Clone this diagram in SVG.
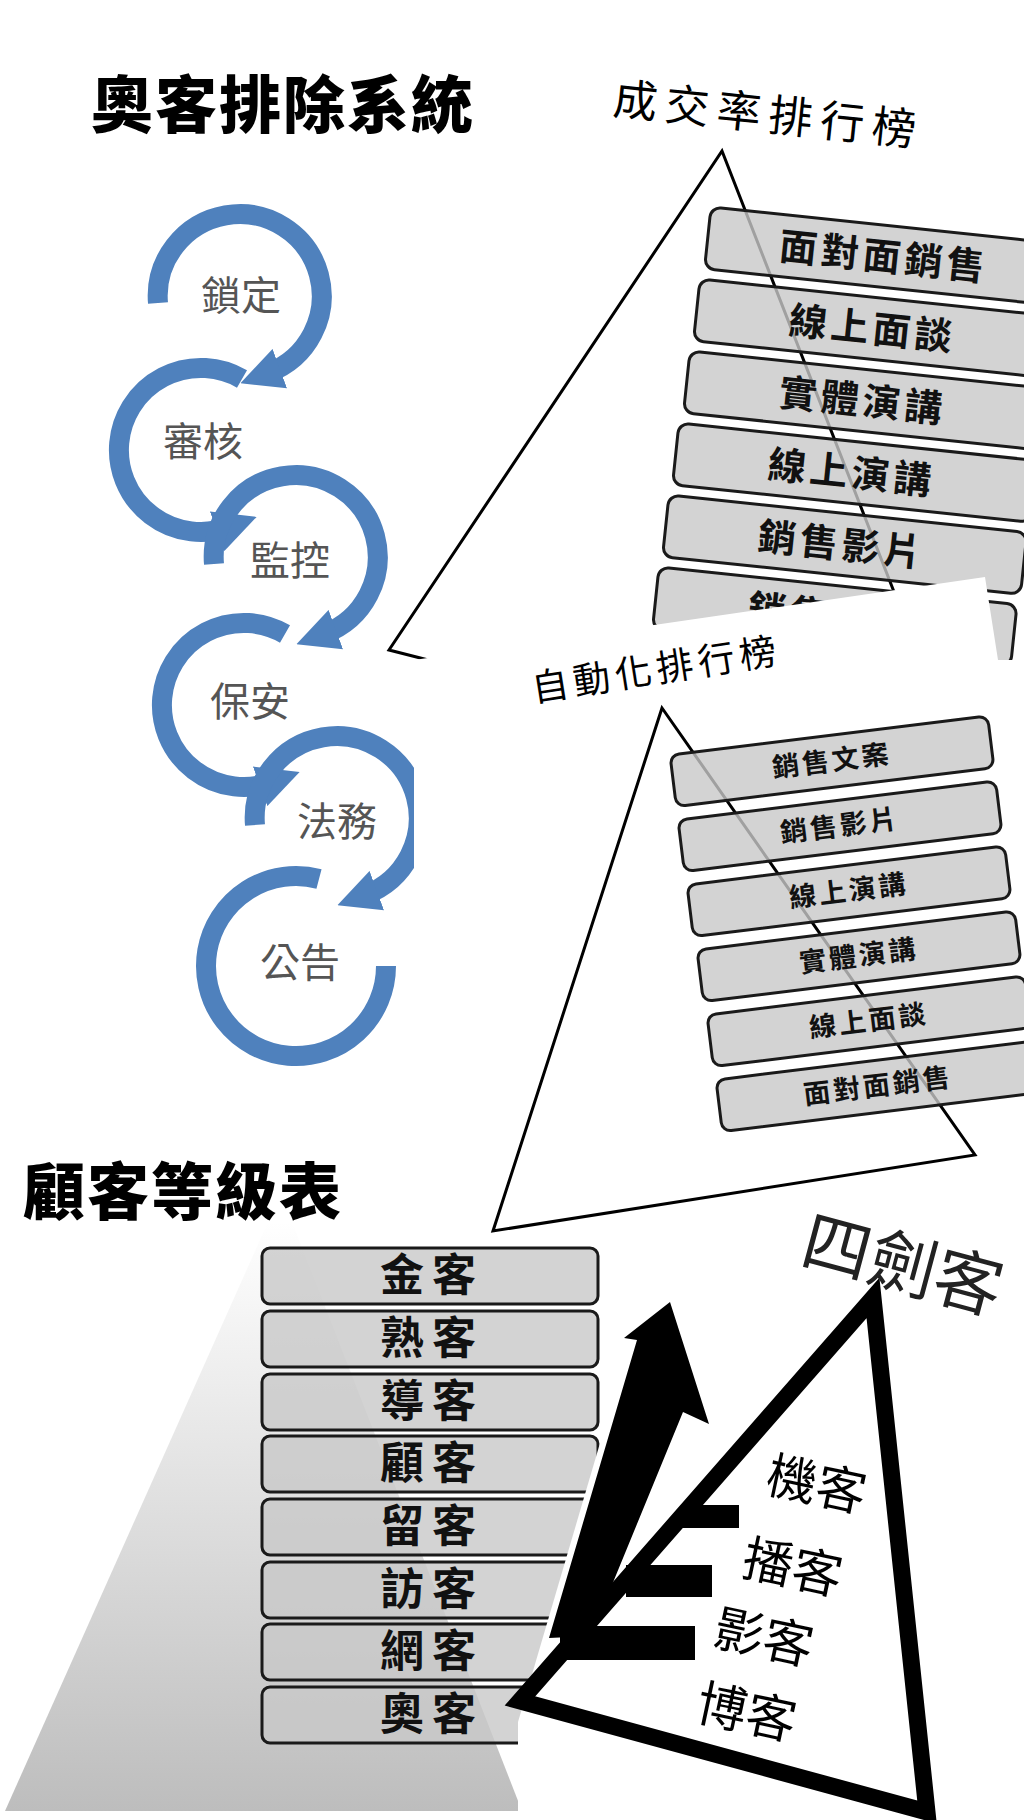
<svg xmlns="http://www.w3.org/2000/svg" width="1024" height="1820" viewBox="0 0 1024 1820">
<style>
.t{font-family:"Noto Sans CJK TC","Noto Sans CJK SC",sans-serif;}
.ring{fill:none;stroke:#4f81bd;stroke-width:20;}
.rt{font-family:"Noto Sans CJK TC",sans-serif;font-size:40px;fill:#555;text-anchor:middle;}
.bx{fill:#c8c8c8;fill-opacity:0.8;stroke:#1a1a1a;stroke-width:3;}
.bt{font-family:"Noto Sans CJK TC",sans-serif;fill:#111;text-anchor:middle;font-weight:700;}
.ln{fill:none;stroke:#000;stroke-width:3;}
</style>
<defs>
<marker id="ah" viewBox="0 0 10 10" refX="3" refY="5" markerWidth="42" markerHeight="42" markerUnits="userSpaceOnUse" orient="auto"><path d="M0,0 L10,5 L0,10 z" fill="#4f81bd"/></marker>
<linearGradient id="gg" x1="0" y1="0" x2="0" y2="1"><stop offset="0" stop-color="#fff"/><stop offset="1" stop-color="#bdbdbd"/></linearGradient>
</defs>
<rect width="1024" height="1820" fill="#fff"/>
<g id="cycle">
<g id="n-lock"><path class="ring" d="M158,303 A82,82 0 1 1 268,373" marker-end="url(#ah)"/><text class="rt" x="241" y="310">鎖定</text></g>
<g id="n-review"><path class="ring" d="M242,379 A82,82 0 1 0 229,527" marker-end="url(#ah)"/><text class="rt" x="203" y="456">審核</text></g>
<g id="n-monitor"><path class="ring" d="M214,564 A82,82 0 1 1 324,634" marker-end="url(#ah)"/><text class="rt" x="290" y="575">監控</text></g>
<g id="n-security"><path class="ring" d="M285,634 A82,82 0 1 0 272,782" marker-end="url(#ah)"/><text class="rt" x="250" y="716">保安</text></g>
<g id="n-legal"><path class="ring" d="M255,825 A82,82 0 1 1 365,895" marker-end="url(#ah)"/><text class="rt" x="337" y="836">法務</text></g>
<g id="n-notice"><path class="ring" d="M319,879 A90,90 0 1 0 386,966"/><text class="rt" x="300" y="977">公告</text></g>
</g>
<text class="t" x="91" y="128" font-size="62" font-weight="900" letter-spacing="2">奧客排除系統</text>
<g id="rank1">
<polyline class="ln" points="905,620 722,151 389,650 440,663"/>
<g transform="translate(711,207) rotate(6)"><rect class="bx" width="360" height="62" rx="10"/><text class="bt" x="177" y="45" font-size="38" letter-spacing="4">面對面銷售</text></g>
<g transform="translate(700,279) rotate(6)"><rect class="bx" width="360" height="62" rx="10"/><text class="bt" x="177" y="45" font-size="38" letter-spacing="4">線上面談</text></g>
<g transform="translate(690,351) rotate(6)"><rect class="bx" width="360" height="62" rx="10"/><text class="bt" x="177" y="45" font-size="38" letter-spacing="4">實體演講</text></g>
<g transform="translate(679,423) rotate(6)"><rect class="bx" width="360" height="62" rx="10"/><text class="bt" x="177" y="45" font-size="38" letter-spacing="4">線上演講</text></g>
<g transform="translate(669,495) rotate(6)"><rect class="bx" width="360" height="62" rx="10"/><text class="bt" x="177" y="45" font-size="38" letter-spacing="4">銷售影片</text></g>
<g transform="translate(659,567) rotate(6)"><rect class="bx" width="360" height="62" rx="10"/><text class="bt" x="177" y="45" font-size="38" letter-spacing="4">銷售文案</text></g>
<text class="t" transform="translate(612,114) rotate(6)" font-size="44" letter-spacing="8">成交率排行榜</text>
</g>
<polygon points="414,660 985,577 998,660 1024,660 1024,1000 414,1000" fill="#fff"/>
<g id="rank2">
<text class="t" transform="translate(534,702) rotate(-9)" font-size="37" letter-spacing="5">自動化排行榜</text>
<polygon class="ln" points="662,708 493,1231 975,1155"/>
<g transform="translate(670,755) rotate(-7)"><rect class="bx" width="320" height="52" rx="9"/><text class="bt" x="160" y="35" font-size="27" letter-spacing="3">銷售文案</text></g>
<g transform="translate(678,820) rotate(-7)"><rect class="bx" width="320" height="52" rx="9"/><text class="bt" x="160" y="35" font-size="27" letter-spacing="3">銷售影片</text></g>
<g transform="translate(687,885) rotate(-7)"><rect class="bx" width="320" height="52" rx="9"/><text class="bt" x="160" y="35" font-size="27" letter-spacing="3">線上演講</text></g>
<g transform="translate(697,950) rotate(-7)"><rect class="bx" width="320" height="52" rx="9"/><text class="bt" x="160" y="35" font-size="27" letter-spacing="3">實體演講</text></g>
<g transform="translate(707,1015) rotate(-7)"><rect class="bx" width="320" height="52" rx="9"/><text class="bt" x="160" y="35" font-size="27" letter-spacing="3">線上面談</text></g>
<g transform="translate(716,1080) rotate(-7)"><rect class="bx" width="320" height="52" rx="9"/><text class="bt" x="160" y="35" font-size="27" letter-spacing="3">面對面銷售</text></g>
</g>
<g id="levels">
<text class="t" x="23" y="1215" font-size="62" font-weight="900" letter-spacing="2">顧客等級表</text>
<polygon points="268,1222 292,1222 522,1811 5,1811" fill="url(#gg)"/>
<g><rect class="bx" x="262" y="1248" width="336" height="56" rx="8"/><text class="bt" x="432" y="1291" font-size="44" letter-spacing="8">金客</text></g>
<g><rect class="bx" x="262" y="1311" width="336" height="56" rx="8"/><text class="bt" x="432" y="1354" font-size="44" letter-spacing="8">熟客</text></g>
<g><rect class="bx" x="262" y="1374" width="336" height="56" rx="8"/><text class="bt" x="432" y="1417" font-size="44" letter-spacing="8">導客</text></g>
<g><rect class="bx" x="262" y="1436" width="336" height="56" rx="8"/><text class="bt" x="432" y="1479" font-size="44" letter-spacing="8">顧客</text></g>
<g><rect class="bx" x="262" y="1499" width="336" height="56" rx="8"/><text class="bt" x="432" y="1542" font-size="44" letter-spacing="8">留客</text></g>
<g><rect class="bx" x="262" y="1562" width="336" height="56" rx="8"/><text class="bt" x="432" y="1605" font-size="44" letter-spacing="8">訪客</text></g>
<g><rect class="bx" x="262" y="1624" width="336" height="56" rx="8"/><text class="bt" x="432" y="1667" font-size="44" letter-spacing="8">網客</text></g>
<g><rect class="bx" x="262" y="1687" width="336" height="56" rx="8"/><text class="bt" x="432" y="1730" font-size="44" letter-spacing="8">奧客</text></g>
</g>
<polygon points="518,1722 668,1212 800,1186 1024,1186 1024,1820 518,1820" fill="#fff"/>
<g id="swords">
<polygon points="670,1302 709,1424 683,1412 591,1636 549,1638 637,1340 624,1338" fill="#000"/>
<polygon points="873,1298 927,1812 520,1701" fill="none" stroke="#000" stroke-width="17" stroke-linejoin="miter"/>
<rect x="681" y="1505" width="58" height="23" fill="#000"/>
<rect x="626" y="1565" width="86" height="32" fill="#000"/>
<rect x="560" y="1626" width="135" height="34" fill="#000"/>
<text class="t" transform="translate(798,1262) rotate(15)" font-size="68" fill="#222">四劍客</text>
<text class="t" transform="translate(813,1502) rotate(12)" font-size="50" text-anchor="middle">機客</text>
<text class="t" transform="translate(789,1585) rotate(12)" font-size="50" text-anchor="middle">播客</text>
<text class="t" transform="translate(760,1655) rotate(12)" font-size="50" text-anchor="middle">影客</text>
<text class="t" transform="translate(743,1730) rotate(12)" font-size="50" text-anchor="middle">博客</text>
</g>
</svg>
